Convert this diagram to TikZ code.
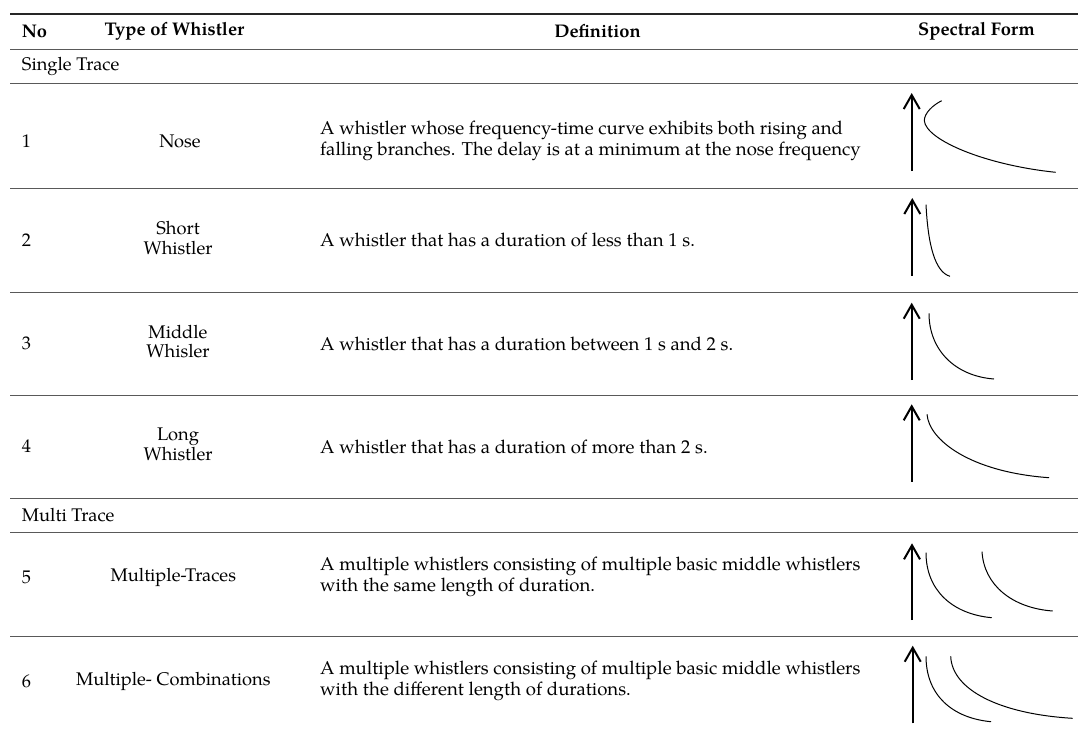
\documentclass[tikz,border=0pt]{standalone}
\usepackage{fontspec}
\setmainfont{TeX Gyre Pagella}
\usetikzlibrary{arrows.meta}
\begin{document}
\begin{tikzpicture}[x=1pt,y=-1pt,
  txt/.style={font=\fontsize{18.3}{19.5}\selectfont, inner sep=0pt},
  def/.style={font=\fontsize{18.6}{20.5}\selectfont, inner sep=0pt, anchor=west, align=left},
  hd/.style={font=\fontsize{18.3}{19.5}\selectfont\bfseries, inner sep=0pt},
  toprule/.style={line width=1.6pt, black!85},
  midrule/.style={line width=1pt, black!65},
  axis/.style={line width=2pt, -{Straight Barb[length=14pt,width=16pt,line width=2pt]}},
  trace/.style={line width=1pt}]
\useasboundingbox (0,0) rectangle (1078,729);

% rules
\draw[toprule] (10,14) -- (1078,14);
\foreach \y in {49,83,188,292,395,498,532,636}
  \draw[midrule] (10,\y) -- (1078,\y);

% header
\node[hd, anchor=west] (hno) at (21.7,31.5) {No};
\node[hd] (htype) at (174.5,31.5) {Type of Whistler};
\node[hd] (hdef) at (597.5,31.5) {Definition};
\node[hd] (hspec) at (976.5,31.5) {Spectral Form};

% group labels
\node[txt, anchor=west] (gsingle) at (21.7,66) {Single Trace};
\node[txt, anchor=west] (gmulti) at (21.7,515) {Multi Trace};

% row 1
\node[txt, anchor=west] (n1) at (21.7,141) {1};
\node[txt] (t1) at (180,141) {Nose};
\node[def] (d1) at (320,141) {A whistler whose frequency-time curve exhibits both rising and\\falling branches. The delay is at a minimum at the nose frequency};

% row 2
\node[txt, anchor=west] (n2) at (21.7,240) {2};
\node[txt, align=center] (t2) at (178,238) {Short\\Whistler};
\node[def] (d2) at (320,240) {A whistler that has a duration of less than 1 s.};

% row 3
\node[txt, anchor=west] (n3) at (21.7,343.5) {3};
\node[txt, align=center] (t3) at (178,341.5) {Middle\\Whisler};
\node[def] (d3) at (320,343.5) {A whistler that has a duration between 1 s and 2 s.};

% row 4
\node[txt, anchor=west] (n4) at (21.7,446.5) {4};
\node[txt, align=center] (t4) at (178,444.5) {Long\\Whistler};
\node[def] (d4) at (320,446.5) {A whistler that has a duration of more than 2 s.};

% row 5
\node[txt, anchor=west] (n5) at (21.7,577) {5};
\node[txt] (t5) at (173.3,577) {Multiple-Traces};
\node[def] (d5) at (320,577) {A multiple whistlers consisting of multiple basic middle whistlers\\with the same length of duration.};

% row 6
\node[txt, anchor=west] (n6) at (21.7,681) {6};
\node[txt] (t6) at (173.3,681) {Multiple- Combinations};
\node[def] (d6) at (320,681) {A multiple whistlers consisting of multiple basic middle whistlers\\with the different length of durations.};

% spectral forms
% row 1: nose
\draw[axis] (911.7,171) -- (911.7,93);
\draw[trace] (941.7,100.7) .. controls (933,105) and (924.3,113) .. (924.3,120.7)
  .. controls (926,140) and (985,165) .. (1055.7,172.3);
% row 2: short
\draw[axis] (912.3,275.7) -- (912.3,198);
\draw[trace] (926,204.7) .. controls (928,245) and (935,272) .. (950,276.3);
% row 3: middle
\draw[axis] (911.7,380) -- (911.7,302.7);
\draw[trace] (929,313.3) .. controls (929,350) and (955,376) .. (994,379);
% row 4: long
\draw[axis] (911.7,481.7) -- (911.7,404.3);
\draw[trace] (927,414.3) .. controls (929,440) and (970,472) .. (1049,477.7);
% row 5: multiple traces
\draw[axis] (912,620) -- (912,543.3);
\draw[trace] (926,552.7) .. controls (926,590) and (952,614) .. (991.7,617.7);
\draw[trace] (982,551.7) .. controls (984,585) and (1012,608) .. (1052.7,611);
% row 6: multiple combinations
\draw[axis] (912.7,723.3) -- (912.7,645.7);
\draw[trace] (926,656.3) .. controls (926,695) and (952,718) .. (991,721.7);
\draw[trace] (950.7,656.3) .. controls (952,690) and (1000,714) .. (1072.7,718.3);
\end{tikzpicture}
\end{document}
